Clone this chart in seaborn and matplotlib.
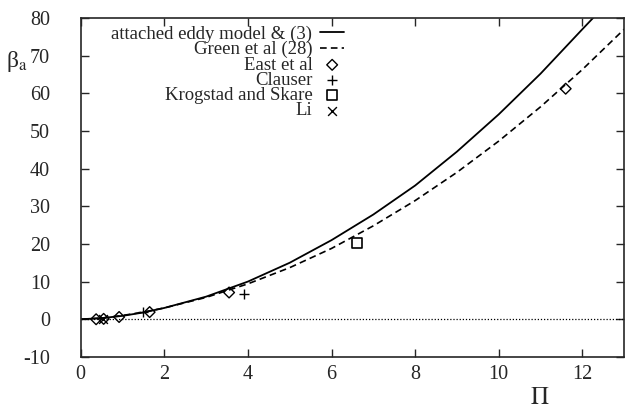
import matplotlib
matplotlib.use("Agg")
import matplotlib.pyplot as plt
import pandas as pd
import seaborn as sns

# curves
pi_model = [0.0, 0.5, 1.0, 1.5, 2.0, 3.0, 4.0, 5.0, 6.0, 7.0, 8.0, 9.0, 10.0, 11.0, 12.0, 12.3]
beta_model = [0.0, 0.3, 0.9, 1.8, 3.0, 6.0, 10.0, 15.0, 21.0, 27.8, 35.5, 44.5, 54.4, 65.2, 77.0, 80.5]

pi_green = [0.0, 0.5, 1.0, 1.5, 2.0, 3.0, 4.0, 5.0, 6.0, 7.0, 8.0, 9.0, 10.0, 11.0, 12.0, 13.0]
beta_green = [0.0, 0.3, 1.0, 1.9, 3.0, 5.8, 9.4, 13.7, 18.8, 24.8, 31.5, 39.0, 47.3, 56.4, 66.3, 77.0]

# data points
pi_east = [0.37, 0.55, 0.92, 1.65, 3.55, 11.6]
beta_east = [0.0, 0.1, 0.6, 1.9, 7.1, 61.2]

pi_clauser = [1.5, 3.9]
beta_clauser = [1.9, 6.8]

pi_krogstad = [6.6]
beta_krogstad = [20.3]

pi_li = [0.53]
beta_li = [0.0]

sns.set_style("ticks")
plt.rcParams["font.family"] = ["Liberation Serif", "DejaVu Serif"]
plt.rcParams["mathtext.fontset"] = "stix"
plt.rcParams["axes.unicode_minus"] = False

fig = plt.figure(figsize=(6.35, 4.16), dpi=100)
ax = fig.add_axes([0.127, 0.142, 0.856, 0.815])

ax.axhline(0, color="black", lw=0.9, ls=(0, (1, 1.5)), zorder=1)

sns.lineplot(x=pi_model, y=beta_model, color="black", lw=1.3, ax=ax,
             label="attached eddy model & (3)", sort=False)
sns.lineplot(x=pi_green, y=beta_green, color="black", lw=1.2, ax=ax,
             label="Green et al (28)", sort=False)
ax.lines[-1].set_linestyle((0, (4, 2.5)))

sns.scatterplot(x=pi_east, y=beta_east, marker="D", s=30, facecolor="none",
                edgecolor="black", linewidth=1.0, ax=ax, label="East et al", zorder=3)
sns.scatterplot(x=pi_clauser, y=beta_clauser, marker="+", s=60, color="black",
                linewidth=1.0, ax=ax, label="Clauser", zorder=3)
sns.scatterplot(x=pi_krogstad, y=beta_krogstad, marker="s", s=50, facecolor="none",
                edgecolor="black", linewidth=1.2, ax=ax, label="Krogstad and Skare", zorder=3)
sns.scatterplot(x=pi_li, y=beta_li, marker="x", s=40, color="black",
                linewidth=1.0, ax=ax, label="Li", zorder=3)

ax.set_xlim(0, 13)
ax.set_ylim(-10, 80)
ax.set_xticks([0, 2, 4, 6, 8, 10, 12])
ax.set_yticks(range(-10, 81, 10))
ax.tick_params(direction="in", length=6, width=1, top=True, right=True,
               labelsize=14.5)
ax.tick_params(axis="y", pad=22)
ax.tick_params(axis="x", pad=6)
for s in ax.spines.values():
    s.set_linewidth(1.2)

ax.set_xlabel(r"$\Pi$", fontsize=18)
ax.xaxis.set_label_coords(0.845, -0.09)
ax.set_ylabel(r"β$_{\rm a}$", fontsize=17, rotation=0, va="center")
ax.yaxis.set_label_coords(-0.118, 0.872)

leg = ax.legend(loc="upper left", bbox_to_anchor=(0.036, 1.01), markerfirst=False,
                frameon=False, fontsize=13.5, handlelength=1.3, handletextpad=0.4,
                labelspacing=-0.1, borderaxespad=0.2)

fig.savefig("out.png", dpi=100)
